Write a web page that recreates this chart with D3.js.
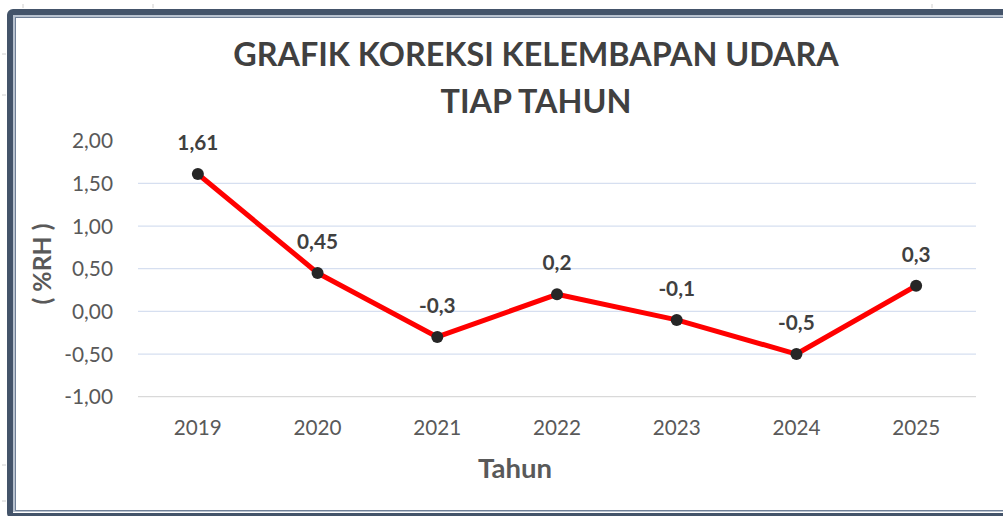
<!DOCTYPE html>
<html>
<head>
<meta charset="utf-8">
<script src="https://cdn.jsdelivr.net/npm/d3@7"></script>
<style>
  html, body { margin: 0; padding: 0; background: #fff; }
  svg { display: block; }
</style>
</head>
<body>
<div id="chart"></div>
<script>
// chart data
const years = ["2019", "2020", "2021", "2022", "2023", "2024", "2025"];
const koreksi = [1.61, 0.45, -0.3, 0.2, -0.1, -0.5, 0.3];
const koreksiLabels = ["1,61", "0,45", "-0,3", "0,2", "-0,1", "-0,5", "0,3"];
const yTicks = [-1, -0.5, 0, 0.5, 1, 1.5, 2];
const titleLines = ["GRAFIK KOREKSI KELEMBAPAN UDARA", "TIAP TAHUN"];

const width = 1003, height = 516;
const plot = { left: 138, right: 976, top: 140.7, bottom: 396.7 };
const font = "Lato, 'Open Sans', sans-serif";

// scale a text group's font size so its first element is as wide as in the picture
function fitWidth(sel, base, target) {
  const w = sel.node().getComputedTextLength();
  if (w > 0) sel.attr("font-size", (base * target / w).toFixed(2) + "px");
}

const svg = d3.select("#chart").append("svg")
  .attr("width", width)
  .attr("height", height);

// faint spreadsheet cell marks outside the frame
const marks = [[23, 4, 23, 8], [153, 4, 153, 8], [932, 4, 932, 8], [2, 54, 6, 54], [2, 95, 6, 95], [2, 465, 6, 465], [2, 501, 6, 501]];
svg.append("g")
  .selectAll("line")
  .data(marks)
  .enter()
  .append("line")
  .attr("x1", d => d[0]).attr("y1", d => d[1])
  .attr("x2", d => d[2]).attr("y2", d => d[3])
  .attr("stroke", "#d0d0d0")
  .attr("stroke-width", 1);

// chart frame (double border, runs off the right edge)
svg.append("rect")
  .attr("x", 10).attr("y", 12)
  .attr("width", 1010).attr("height", 504)
  .attr("rx", 3)
  .attr("fill", "none")
  .attr("stroke", "#44546a")
  .attr("stroke-width", 6);
svg.append("rect")
  .attr("x", 14).attr("y", 16)
  .attr("width", 1000).attr("height", 495)
  .attr("fill", "none")
  .attr("stroke", "#b8c2cf")
  .attr("stroke-width", 2);
svg.append("rect")
  .attr("x", 15.5).attr("y", 17.5)
  .attr("width", 1000).attr("height", 493)
  .attr("fill", "#fff")
  .attr("stroke", "#6f7f96")
  .attr("stroke-width", 1);

const x = d3.scaleBand()
  .domain(years)
  .range([plot.left, plot.right]);

const y = d3.scaleLinear()
  .domain([-1, 2])
  .range([plot.bottom, plot.top]);

// gridlines (no line at the top value)
svg.append("g")
  .selectAll("line")
  .data(yTicks.filter(d => d > -1 && d < 2))
  .enter()
  .append("line")
  .attr("x1", plot.left)
  .attr("x2", plot.right)
  .attr("y1", d => y(d))
  .attr("y2", d => y(d))
  .attr("stroke", "#d6dff0")
  .attr("stroke-width", 1.3);

// category axis line at the bottom
svg.append("line")
  .attr("x1", plot.left).attr("x2", plot.right)
  .attr("y1", y(-1)).attr("y2", y(-1))
  .attr("stroke", "#d9d9d9")
  .attr("stroke-width", 1.3);

// y tick labels
const yLabels = svg.append("g")
  .selectAll("text")
  .data(yTicks.slice().reverse())
  .enter()
  .append("text")
  .attr("x", 113)
  .attr("y", d => y(d))
  .attr("dy", "0.36em")
  .attr("text-anchor", "end")
  .attr("font-family", font)
  .attr("font-size", "18px")
  .attr("fill", "#595959")
  .text(d => d3.format(".2f")(d).replace(".", ",").replace("−", "-"));
fitWidth(yLabels, 18, 41);

// x tick labels
const xLabels = svg.append("g")
  .selectAll("text")
  .data(years)
  .enter()
  .append("text")
  .attr("x", d => x(d) + x.bandwidth() / 2)
  .attr("y", 435)
  .attr("text-anchor", "middle")
  .attr("font-family", font)
  .attr("font-size", "18px")
  .attr("fill", "#595959")
  .text(d => d);
fitWidth(xLabels, 18, 48);

// line series
const pts = years.map((yr, i) => ({ year: yr, value: koreksi[i], label: koreksiLabels[i] }));

svg.append("path")
  .datum(pts)
  .attr("fill", "none")
  .attr("stroke", "#ff0000")
  .attr("stroke-width", 5)
  .attr("stroke-linejoin", "round")
  .attr("d", d3.line()
    .x(d => x(d.year) + x.bandwidth() / 2)
    .y(d => y(d.value)));

svg.append("g")
  .selectAll("circle")
  .data(pts)
  .enter()
  .append("circle")
  .attr("cx", d => x(d.year) + x.bandwidth() / 2)
  .attr("cy", d => y(d.value))
  .attr("r", 6)
  .attr("fill", "#262626");

// data labels
const dataLabels = svg.append("g")
  .selectAll("text")
  .data(pts)
  .enter()
  .append("text")
  .attr("x", d => x(d.year) + x.bandwidth() / 2)
  .attr("y", d => y(d.value) - 24)
  .attr("text-anchor", "middle")
  .attr("font-family", font)
  .attr("font-weight", "bold")
  .attr("font-size", "18px")
  .attr("fill", "#404040")
  .text(d => d.label);
fitWidth(dataLabels, 18, 41);

// title
const title = svg.append("g")
  .selectAll("text")
  .data(titleLines)
  .enter()
  .append("text")
  .attr("x", 536)
  .attr("y", (d, i) => 66 + i * 47)
  .attr("text-anchor", "middle")
  .attr("font-family", font)
  .attr("font-weight", "bold")
  .attr("font-size", "28px")
  .attr("fill", "#404040")
  .text(d => d);
fitWidth(title, 28, 606);

// axis titles
const xTitle = svg.append("text")
  .attr("x", 515)
  .attr("y", 478)
  .attr("text-anchor", "middle")
  .attr("font-family", font)
  .attr("font-weight", "bold")
  .attr("font-size", "22px")
  .attr("fill", "#595959")
  .text("Tahun");
fitWidth(xTitle, 22, 74);

const yTitle = svg.append("text")
  .attr("transform", "translate(51, 264) rotate(-90)")
  .attr("text-anchor", "middle")
  .attr("font-family", font)
  .attr("font-weight", "bold")
  .attr("font-size", "20px")
  .attr("fill", "#595959")
  .text("( %RH )");
fitWidth(yTitle, 20, 81);
</script>
</body>
</html>
